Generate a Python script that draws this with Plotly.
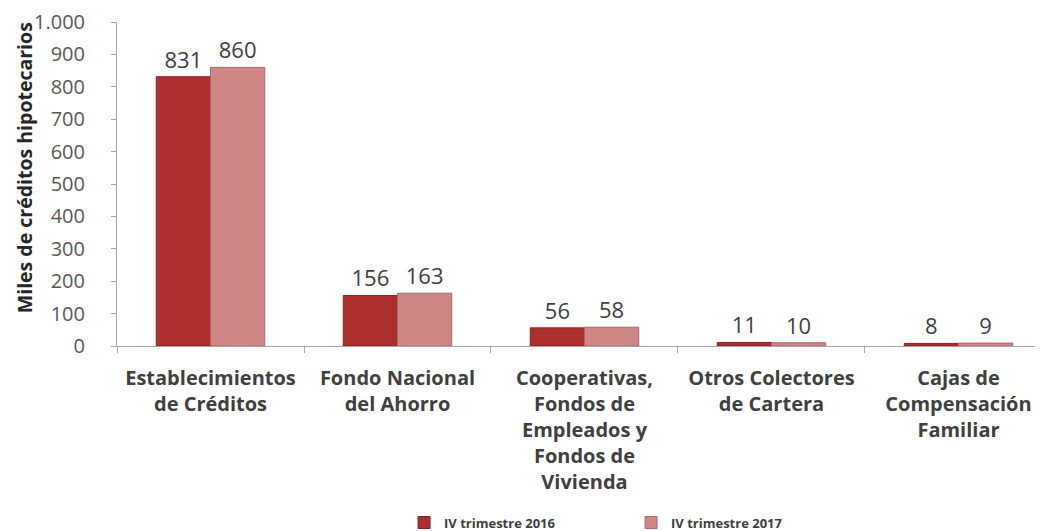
import plotly.graph_objects as go

# Data
categories = [
    "Establecimientos<br>de Créditos",
    "Fondo Nacional<br>del Ahorro",
    "Cooperativas,<br>Fondos de<br>Empleados y<br>Fondos de<br>Vivienda",
    "Otros Colectores<br>de Cartera",
    "Cajas de<br>Compensación<br>Familiar",
]
values_2016 = [831, 156, 56, 11, 8]
values_2017 = [860, 163, 58, 10, 9]
series_names = ["IV trimestre 2016", "IV trimestre 2017"]
y_ticks = [0, 100, 200, 300, 400, 500, 600, 700, 800, 900, 1000]

FONT = "'Open Sans', sans-serif"

fig = go.Figure()
fig.add_trace(go.Bar(
    x=categories, y=values_2016, name=series_names[0],
    marker=dict(color="#AE2F2F", line=dict(color="#862222", width=1)),
    text=values_2016, textposition="outside", cliponaxis=False,
    textfont=dict(size=22, color="#404040", family=FONT),
))
fig.add_trace(go.Bar(
    x=categories, y=values_2017, name=series_names[1],
    marker=dict(color="#D08686", line=dict(color="#A56A6A", width=1)),
    text=values_2017, textposition="outside", cliponaxis=False,
    textfont=dict(size=22, color="#404040", family=FONT),
))

# page body adds an 8px offset, so the figure is sized/margined to compensate
fig.update_layout(
    width=1035, height=523,
    barmode="group", bargap=0.42, bargroupgap=0,
    separators=",.",
    plot_bgcolor="white", paper_bgcolor="white",
    font=dict(family=FONT),
    margin=dict(l=109, r=0, t=14, b=185, autoexpand=False),
    showlegend=True,
    legend=dict(
        orientation="h", x=0.31, xanchor="left",
        y=-0.545, yanchor="middle",
        font=dict(size=13, color="#404040", family=FONT, weight="bold"),
        entrywidth=182, itemwidth=30,
    ),
    xaxis=dict(
        range=[-0.5, 4.452], automargin=False,
        showline=True, linecolor="#A6A6A6", linewidth=1,
        ticks="outside", ticklen=6, tickcolor="#A6A6A6",
        tickson="boundaries", ticklabelstandoff=14,
        tickfont=dict(size=20, color="#404040", family=FONT, weight="bold"),
        showgrid=False,
    ),
    yaxis=dict(
        range=[0, 1000], tickvals=y_ticks, tickformat=",d", automargin=False,
        showline=True, linecolor="#A6A6A6", linewidth=1,
        ticks="outside", ticklen=5, tickcolor="#A6A6A6",
        ticklabelstandoff=22, ticklabeloverflow="allow",
        tickfont=dict(size=20, color="#595959", family=FONT),
        showgrid=False, zeroline=False,
    ),
    annotations=[dict(
        text="Miles de créditos hipotecarios", textangle=-90,
        xref="paper", yref="paper", x=-0.1, y=0.55,
        xanchor="center", yanchor="middle", showarrow=False,
        font=dict(size=19.5, color="#262626", family=FONT, weight="bold"),
    )],
)

fig.write_html("out.html")
